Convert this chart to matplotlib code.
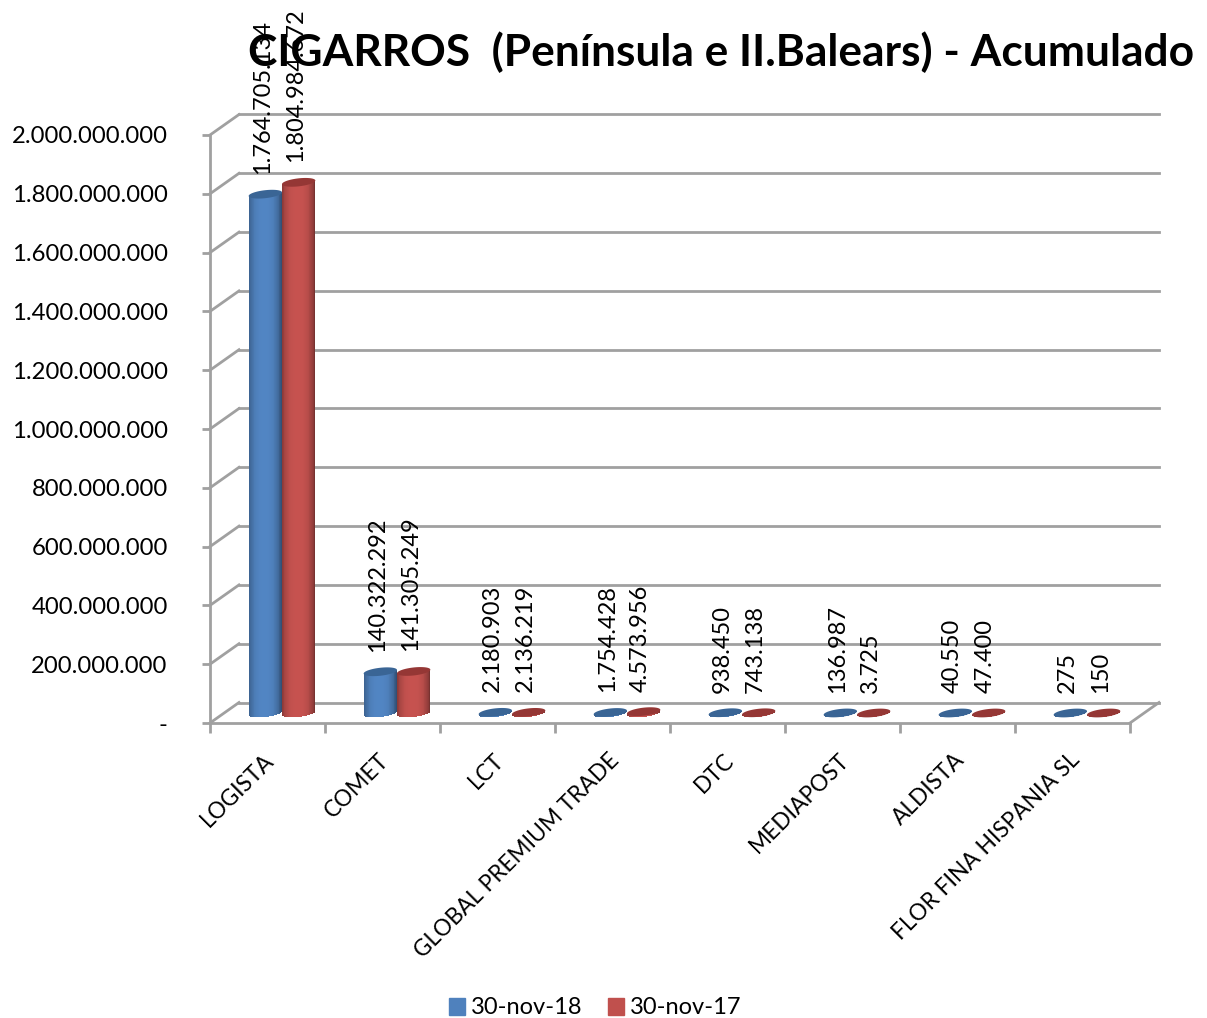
import matplotlib
matplotlib.use("Agg")
import matplotlib.pyplot as plt
from matplotlib.patches import Patch, Polygon
from matplotlib.transforms import ScaledTranslation
import numpy as np

# Daten
categories = ["LOGISTA", "COMET", "LCT", "GLOBAL PREMIUM TRADE", "DTC",
              "MEDIAPOST", "ALDISTA", "FLOR FINA HISPANIA SL"]
series_names = ["30-nov-18", "30-nov-17"]
values_18 = [1764705134, 140322292, 2180903, 1754428, 938450, 136987, 40550, 275]
values_17 = [1804984672, 141305249, 2136219, 4573956, 743138, 3725, 47400, 150]
y_ticks = list(range(0, 2000000001, 200000000))

W, H = 1207, 1018
plt.rcParams["font.family"] = ["Lato", "DejaVu Sans"]
GREY = "#a0a0a0"
PX_Y = 2000000000 / 588  # Wert pro Pixel
PX_X = 8 / 920


def dots(v):
    return f"{v:,}".replace(",", ".")


fig = plt.figure(figsize=(W / 100, H / 100), dpi=100)
ax = fig.add_axes([210 / W, 1 - 723 / H, 920 / W, 588 / H])
ax.set_xlim(0, 8)
ax.set_ylim(0, 2000000000)
ax.patch.set_visible(False)


def shifted(dx, dy):
    # Versatz in Pixeln, fuer die 3D-Tiefe
    return ax.transData + ScaledTranslation(dx / 100, dy / 100, fig.dpi_scale_trans)


back = shifted(29, 20.5)
mid = shifted(14.5, 10)

# Rueckwand und Boden
for t in y_ticks:
    ax.plot([0, 8], [t, t], color=GREY, lw=2, transform=back, clip_on=False, zorder=1)
    ax.plot([0, 29 * PX_X], [t, t + 20.5 * PX_Y], color=GREY, lw=2, clip_on=False, zorder=1)
ax.plot([8, 8 + 29 * PX_X], [0, 20.5 * PX_Y], color=GREY, lw=2, clip_on=False, zorder=1)

# Achsen
for s in ["top", "right"]:
    ax.spines[s].set_visible(False)
for s in ["left", "bottom"]:
    ax.spines[s].set_color(GREY)
    ax.spines[s].set_linewidth(2)
ax.set_yticks(y_ticks)
ax.set_yticklabels(["-"] + [dots(t) for t in y_ticks[1:]], fontsize=17.2, color="black")
ax.set_xticks(range(9))
ax.set_xticklabels([])
ax.set_xticks(np.arange(8) + 0.5, minor=True)
ax.set_xticklabels(categories, minor=True, rotation=45, ha="right", va="top",
                   rotation_mode="anchor", fontsize=16.3)
ax.tick_params(axis="y", length=5.5, width=2, color=GREY, pad=25)
ax.tick_params(axis="x", which="major", length=7, width=2, color=GREY)
ax.tick_params(axis="x", which="minor", length=0, pad=19)
for lab in ax.get_xticklabels(minor=True):
    lab.set_transform(lab.get_transform() + ScaledTranslation(-4 / 100, 0, fig.dpi_scale_trans))


def cylinder(xc, val, side, top):
    # Zylinder aus schmalen Streifen, Deckel leicht gekippt
    bw = 0.29
    eh = 4 * PX_Y
    tilt = 1.8 * PX_Y
    xs = np.linspace(-1, 1, 41)
    base = np.array(matplotlib.colors.to_rgb(side))
    for a, b in zip(xs[:-1], xs[1:]):
        m = (a + b) / 2
        shade = 1.03 - 0.38 * abs(m + 0.05) ** 3
        curve = eh * np.sqrt(1 - m ** 2)
        low = -curve + tilt * m
        ax.bar(xc + m * bw / 2, val + tilt * m - low, width=(b - a) * bw / 2 * 1.15,
               bottom=low, color=np.clip(base * shade, 0, 1), lw=0,
               transform=mid, clip_on=False, zorder=3)
    t = np.linspace(0, 2 * np.pi, 60)
    pts = np.column_stack([xc + bw / 2 * np.cos(t),
                           val + eh * np.sin(t) + tilt * np.cos(t)])
    ax.add_patch(Polygon(pts, closed=True, facecolor=top, edgecolor="none",
                         transform=mid, clip_on=False, zorder=4))


for i in range(8):
    cylinder(i + 0.5 - 0.145, values_18[i], "#4f81bd", "#3a6595")
    cylinder(i + 0.5 + 0.145, values_17[i], "#c0504d", "#953735")
    for off, v in [(-0.145, values_18[i]), (0.145, values_17[i])]:
        ax.annotate(dots(v), (i + 0.5 + off, v), xytext=(-3 * 0.72, 20 * 0.72),
                    textcoords="offset points", xycoords=mid, rotation=90,
                    ha="center", va="bottom", fontsize=17, clip_on=False, zorder=5)

fig.text(721 / W, 1 - 52 / H, "CIGARROS  (Península e II.Balears) - Acumulado",
         ha="center", va="center", fontsize=31.9, fontweight="bold", zorder=10)

handles = [Patch(color="#4f81bd"), Patch(color="#c0504d")]
fig.legend(handles, series_names, loc="center", bbox_to_anchor=(595 / W, 1 - 1008 / H),
           ncol=2, frameon=False, fontsize=17, handlelength=0.68, handleheight=0.7,
           handletextpad=0.25, columnspacing=1.1)

fig.savefig("out.png", dpi=100)
